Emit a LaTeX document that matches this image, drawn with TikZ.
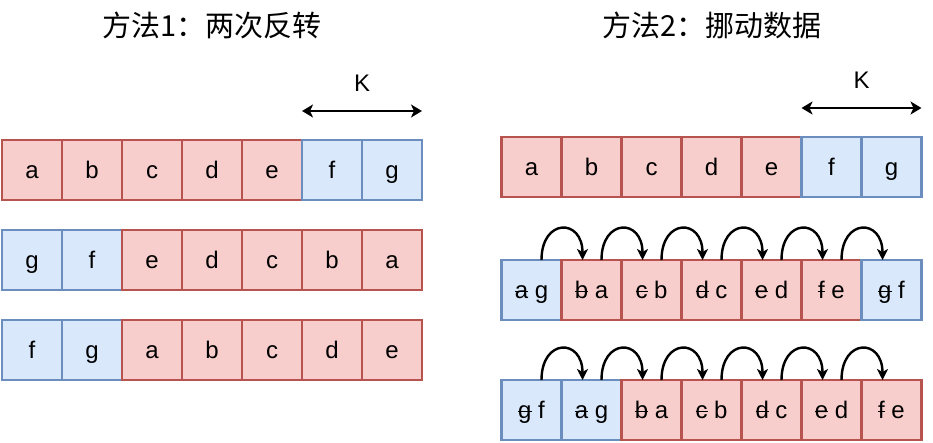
\documentclass[tikz,border=0pt]{standalone}
\usepackage{fontspec}
\setmainfont{Liberation Sans}
\newfontfamily\cjk{Noto Sans CJK SC}
\usetikzlibrary{arrows.meta,calc}
\definecolor{rfill}{HTML}{F8CECC}
\definecolor{rline}{HTML}{B85450}
\definecolor{bfill}{HTML}{DAE8FC}
\definecolor{bline}{HTML}{6C8EBF}
\newcommand\strk[1]{\leavevmode\setbox0=\hbox{#1}\rlap{\rule[0.25em]{\wd0}{1.8pt}}\box0}
\begin{document}
\begin{tikzpicture}[x=1pt,y=-1pt,
  cell/.style={minimum width=60pt,minimum height=60pt,inner sep=0pt,outer sep=0pt,line width=2.6pt,
    font=\fontsize{24}{28}\selectfont,text height=21.6pt,text depth=5pt},
  redc/.style={cell,draw=rline,fill=rfill},
  bluec/.style={cell,draw=bline,fill=bfill},
  curv/.style={line width=2.4pt,-{Stealth[length=11pt,width=11pt,inset=3pt]}},
  karr/.style={line width=2.4pt,{Stealth[length=11pt,width=13pt,inset=3pt]}-{Stealth[length=11pt,width=13pt,inset=3pt]}},
  ktext/.style={font=\fontsize{24}{28}\selectfont,inner sep=0pt},
  title/.style={font=\cjk\fontsize{29}{34}\selectfont,inner sep=0pt}]
\useasboundingbox (0,0) rectangle (933,442);
% titles
\node[title] (t1) at (212,25) {方法1：两次反转};
\node[title] (t2) at (712,25) {方法2：挪动数据};
% left rows
\foreach \s/\t [count=\i] in {redc/a,redc/b,redc/c,redc/d,redc/e,bluec/f,bluec/g}
  \node[\s] (L1-\i) at ({32+60*(\i-1)},170) {\t};
\foreach \s/\t [count=\i] in {bluec/g,bluec/f,redc/e,redc/d,redc/c,redc/b,redc/a}
  \node[\s] (L2-\i) at ({32+60*(\i-1)},260) {\t};
\foreach \s/\t [count=\i] in {bluec/f,bluec/g,redc/a,redc/b,redc/c,redc/d,redc/e}
  \node[\s] (L3-\i) at ({32+60*(\i-1)},350) {\t};
% right rows
\foreach \s/\t [count=\i] in {redc/a,redc/b,redc/c,redc/d,redc/e,bluec/f,bluec/g}
  \node[\s] (R1-\i) at ({531.5+60*(\i-1)},167) {\t};
\foreach \s/\t [count=\i] in {bluec/{\strk{a}\ g},redc/{\strk{b}\ a},redc/{\strk{c}\ b},redc/{\strk{d}\ c},redc/{\strk{e}\ d},redc/{\strk{f}\ e},bluec/{\strk{g}\ f}}
  \node[\s] (R2-\i) at ({531.5+60*(\i-1)},290) {\t};
\foreach \s/\t [count=\i] in {bluec/{\strk{g}\ f},bluec/{\strk{a}\ g},redc/{\strk{b}\ a},redc/{\strk{c}\ b},redc/{\strk{d}\ c},redc/{\strk{e}\ d},redc/{\strk{f}\ e}}
  \node[\s] (R3-\i) at ({531.5+60*(\i-1)},410) {\t};
% curved arrows
\foreach \i [count=\j from 2] in {1,...,6}{
  \draw[curv] ($(R2-\i.north west)+(40,0)$) .. controls +(0,-42) and +(0,-42) .. ($(R2-\j.north west)+(21,0)$);
  \draw[curv] ($(R3-\i.north west)+(40,0)$) .. controls +(0,-42) and +(0,-42) .. ($(R3-\j.north west)+(21,0)$);
}
% K arrows
\coordinate (ka1) at ($(L1-6.north west)+(0,-29)$);
\coordinate (kb1) at ($(L1-7.north east)+(0,-29)$);
\draw[karr] (ka1) -- (kb1);
\node[ktext] (k1) at ($(L1-7.north west)+(0,-57)$) {K};
\coordinate (ka2) at ($(R1-6.north west)+(0,-29)$);
\coordinate (kb2) at ($(R1-7.north east)+(0,-29)$);
\draw[karr] (ka2) -- (kb2);
\node[ktext] (k2) at ($(R1-7.north west)+(0,-57)$) {K};
\end{tikzpicture}
\end{document}
